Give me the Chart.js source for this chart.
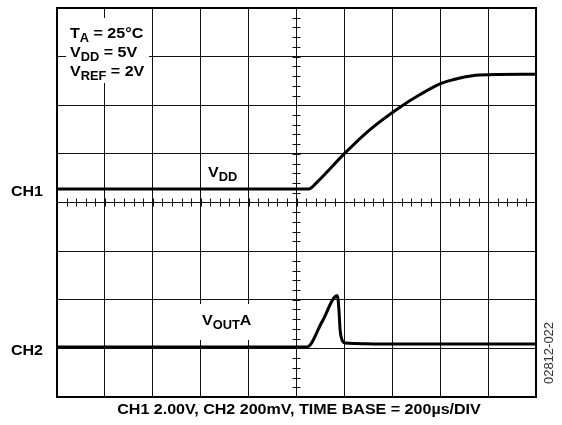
<!DOCTYPE html>
<html>
<head>
<meta charset="utf-8">
<script src="https://cdn.jsdelivr.net/npm/chart.js@4.4.1/dist/chart.umd.min.js"></script>
<style>
  html, body { margin: 0; padding: 0; background: #fff; }
  canvas { display: block; }
</style>
</head>
<body>
<canvas id="scope" width="562" height="425"></canvas>
<script>
// scope screen: 10 x 8 divisions, time base 200us/div, levels in divisions from bottom
const vddTime = [0, 1052, 1086, 1203, 1307, 1432, 1516, 1599, 1683, 1766, 2000];
const vddLevel = [4.28, 4.28, 4.42, 5.02, 5.50, 5.96, 6.22, 6.44, 6.56, 6.62, 6.64];
const voutTime = [0, 1044, 1107, 1170, 1174, 1178, 1182, 1189, 1203, 1244, 1349, 2000];
const voutLevel = [1.03, 1.03, 1.55, 2.08, 1.99, 1.73, 1.38, 1.19, 1.11, 1.10, 1.09, 1.09];
const ch1Level = 4.26;
const ch2Level = 1.0;

const FONT = '"Liberation Sans", Arial, sans-serif';
const STRETCH = 1.07; // the original lettering is a little wider than Liberation

function wideText(ctx, txt, x, y) {
    ctx.save();
    ctx.translate(x, y);
    ctx.scale(STRETCH, 1);
    ctx.fillText(txt, 0, 0);
    ctx.restore();
    return ctx.measureText(txt).width * STRETCH;
}

// draws text made of normal / subscript pieces
function richText(ctx, parts, x, y) {
    for (const [txt, sub] of parts) {
        ctx.font = sub ? 'bold 12px ' + FONT : 'bold 15px ' + FONT;
        x += wideText(ctx, txt, x, sub ? y + 4 : y);
    }
}

const ctx = document.getElementById('scope').getContext('2d');

new Chart(ctx, {
    type: 'line',
    data: {
        datasets: [{
            label: 'VDD',
            data: vddTime.map((t, i) => ({ x: t, y: vddLevel[i] })),
            borderColor: '#000',
            borderWidth: 3,
            pointRadius: 0,
            cubicInterpolationMode: 'monotone'
        }, {
            label: 'VOUTA',
            data: voutTime.map((t, i) => ({ x: t, y: voutLevel[i] })),
            borderColor: '#000',
            borderWidth: 3,
            pointRadius: 0,
            cubicInterpolationMode: 'monotone'
        }]
    },
    options: {
        responsive: false,
        animation: false,
        devicePixelRatio: 1,
        layout: { padding: { left: 57, right: 26, top: 8, bottom: 28 } },
        plugins: {
            legend: { display: false },
            tooltip: { enabled: false }
        },
        scales: {
            x: {
                type: 'linear', min: 0, max: 2000,
                ticks: { display: false, stepSize: 200 },
                grid: { color: '#111', lineWidth: 1, drawTicks: false },
                border: { display: false }
            },
            y: {
                type: 'linear', min: 0, max: 8,
                ticks: { display: false, stepSize: 1 },
                grid: { color: '#111', lineWidth: 1, drawTicks: false },
                border: { display: false }
            }
        }
    },
    plugins: [{
        id: 'scopeDecor',
        beforeDatasetsDraw(chart) {
            const c = chart.ctx;
            const xs = chart.scales.x, ys = chart.scales.y;
            const a = chart.chartArea;
            c.save();
            // white patches behind the labels
            c.fillStyle = '#fff';
            c.fillRect(66, 18, 83, 65);
            c.fillRect(195, 304, 60, 36);
            // minor ticks on centre axes
            c.strokeStyle = '#111';
            c.lineWidth = 1;
            const cx = xs.getPixelForValue(1000), cy = ys.getPixelForValue(4);
            c.beginPath();
            for (let t = 0; t <= 2000; t += 40) {
                const px = Math.round(xs.getPixelForValue(t)) + 0.5;
                c.moveTo(px, cy - 4); c.lineTo(px, cy + 4);
            }
            for (let v = 0; v <= 8; v += 0.2) {
                const py = Math.round(ys.getPixelForValue(v)) + 0.5;
                c.moveTo(cx - 4, py); c.lineTo(cx + 4, py);
            }
            c.stroke();
            // frame
            c.strokeStyle = '#000';
            c.lineWidth = 2;
            c.strokeRect(a.left, a.top, a.right - a.left, a.bottom - a.top);
            c.restore();
        },
        afterDraw(chart) {
            const c = chart.ctx;
            const ys = chart.scales.y;
            c.save();
            c.fillStyle = '#000';
            c.textBaseline = 'alphabetic';
            c.textAlign = 'left';
            richText(c, [['T', 0], ['A', 1], [' = 25°C', 0]], 70, 38);
            richText(c, [['V', 0], ['DD', 1], [' = 5V', 0]], 70, 57);
            richText(c, [['V', 0], ['REF', 1], [' = 2V', 0]], 70, 76);
            richText(c, [['V', 0], ['DD', 1]], 208, 177);
            richText(c, [['V', 0], ['OUT', 1], ['A', 0]], 202, 325);
            // channel markers
            c.font = 'bold 15px ' + FONT;
            c.textBaseline = 'middle';
            for (const [name, lvl] of [['CH1', ch1Level], ['CH2', ch2Level]]) {
                const w = c.measureText(name).width * STRETCH;
                wideText(c, name, 43 - w, ys.getPixelForValue(lvl) + 2);
            }
            // bottom caption
            c.textBaseline = 'alphabetic';
            const cap = 'CH1 2.00V, CH2 200mV, TIME BASE = 200µs/DIV';
            const cw = c.measureText(cap).width * STRETCH;
            wideText(c, cap, 299 - cw / 2, 414);
            // figure id
            c.translate(549, 353);
            c.rotate(-Math.PI / 2);
            c.font = '13px ' + FONT;
            c.fillStyle = '#333';
            c.textAlign = 'center';
            c.textBaseline = 'middle';
            c.fillText('02812-022', 0, 0);
            c.restore();
        }
    }]
});
</script>
</body>
</html>
